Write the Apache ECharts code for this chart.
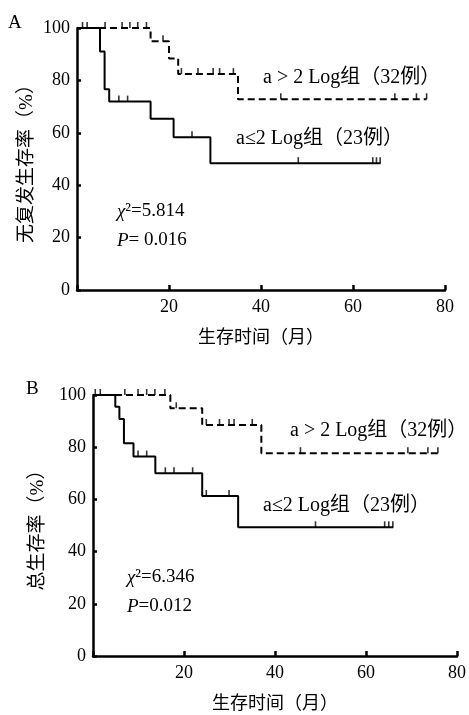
<!DOCTYPE html>
<html lang="zh">
<head>
<meta charset="UTF-8">
<title>生存曲线</title>
<script src="https://cdn.jsdelivr.net/npm/echarts@6/dist/echarts.min.js"></script>
</head>
<body style="margin:0;background:#fff;">
<div id="main" style="width:469px;height:715px;"></div>
<script>
// A: 无复发生存率
const rfsHighT = [0, 16, 20, 22, 35, 76];
const rfsHighS = [100, 94.9, 88.4, 82.4, 72.8, 72.8];
const rfsHighCens = [1.2, 2.2, 6.1, 9.8, 11.5, 13.2, 15.1, 18.7, 22.7, 26.3, 29.6, 31, 34, 44.3, 69.1, 73.8, 76];
const rfsLowT = [0, 5, 6, 7, 16, 21, 29, 66];
const rfsLowS = [100, 91, 76.6, 71.9, 65.4, 58.3, 48.4, 48.4];
const rfsLowCens = [9.1, 11, 25, 48.1, 64.3, 65.1, 65.9];

// B: 总生存率
const osHighT = [0, 17, 24, 37, 76];
const osHighS = [100, 94.9, 88.5, 77.7, 77.7];
const osHighCens = [0.5, 1.6, 7, 9.9, 11.8, 13.6, 15.8, 18.3, 24.9, 27.8, 29.9, 31, 35, 45.6, 69.2, 73.6, 75.8];
const osLowT = [0, 4.9, 5.8, 6.8, 8.9, 13.7, 24, 31.9, 66];
const osLowS = [100, 95.5, 90.8, 81.5, 76.4, 70, 61.3, 49.3, 49.3];
const osLowCens = [9.9, 11.8, 15.9, 17.8, 21.9, 24.9, 29.9, 48.9, 64.1, 65, 65.9];

const labelHigh = 'a > 2 Log组（32例）';
const labelLow = 'a≤2 Log组（23例）';

const FONT = '"Liberation Serif", "Noto Sans CJK SC", serif';

function pairs(ts, ss) {
  return ts.map((t, i) => [t, ss[i]]);
}
// survival value at time t on a step curve
function survAt(ts, ss, t) {
  let s = ss[0];
  for (let i = 0; i < ts.length; i++) {
    if (ts[i] <= t) s = ss[i];
  }
  return s;
}
function cens(ts, ss, cs) {
  return cs.map(c => [c, survAt(ts, ss, c)]);
}

function xAxisOf(idx) {
  return {
    type: 'value', gridIndex: idx, min: 0, max: 80, interval: 20,
    axisLine: { show: true, onZero: false, lineStyle: { color: '#000', width: 2.5 } },
    axisTick: { show: true, inside: true, length: 5, lineStyle: { color: '#000', width: 2.5 } },
    axisLabel: { color: '#000', fontSize: 18, fontFamily: FONT, margin: 8,
      formatter: v => (v === 0 ? '' : v) },
    splitLine: { show: false },
    name: '生存时间（月）', nameLocation: 'middle', nameGap: 39,
    nameTextStyle: { color: '#000', fontSize: 18, fontFamily: FONT }
  };
}
function yAxisOf(idx, name, gap) {
  return {
    type: 'value', gridIndex: idx, min: 0, max: 100, interval: 20,
    axisLine: { show: true, lineStyle: { color: '#000', width: 2.5 } },
    axisTick: { show: true, inside: true, length: 4, lineStyle: { color: '#000', width: 2.5 } },
    axisLabel: { color: '#000', fontSize: 18, fontFamily: FONT, margin: 7 },
    splitLine: { show: false },
    name: name, nameLocation: 'middle', nameGap: gap, nameRotate: 90,
    nameMoveOverlap: false,
    nameTextStyle: { color: '#000', fontSize: 19, fontFamily: FONT }
  };
}
function curve(idx, data, dashed) {
  return {
    type: 'line', xAxisIndex: idx, yAxisIndex: idx, step: 'end', symbol: 'none',
    data: data, clip: false,
    lineStyle: { color: '#000', width: 2, type: dashed ? [7, 4] : 'solid' }
  };
}
function marks(idx, data) {
  return {
    type: 'scatter', xAxisIndex: idx, yAxisIndex: idx, data: data, clip: false,
    symbol: 'rect', symbolSize: [1.6, 6], symbolOffset: [0, -3],
    itemStyle: { color: '#000' }
  };
}
function txt(left, top, text, size) {
  return { type: 'text', left: left, top: top,
    style: { text: text, font: (size || 20) + 'px ' + FONT, fill: '#000' } };
}
function stat(left, top, chi, p) {
  return [
    { type: 'text', left: left, top: top, style: {
      text: '{i|χ}{n|²=' + chi + '}', fill: '#000',
      rich: {
        i: { fontSize: 19, fontStyle: 'italic', fontFamily: FONT },
        n: { fontSize: 19, fontFamily: FONT }
      } } },
    { type: 'text', left: left, top: top + 29, style: {
      text: '{i|P}{n|' + p + '}', fill: '#000',
      rich: {
        i: { fontSize: 19, fontStyle: 'italic', fontFamily: FONT },
        n: { fontSize: 19, fontFamily: FONT }
      } } }
  ];
}

const chart = echarts.init(document.getElementById('main'));
chart.setOption({
  animation: false,
  backgroundColor: '#fff',
  grid: [
    { left: 77, top: 28, width: 368, height: 262 },
    { left: 93, top: 395, width: 366, height: 261 }
  ],
  xAxis: [xAxisOf(0), xAxisOf(1)],
  yAxis: [yAxisOf(0, '无复发生存率（%）', 40), yAxisOf(1, '总生存率（%）', 45)],
  series: [
    curve(0, pairs(rfsHighT, rfsHighS), true),
    curve(0, pairs(rfsLowT, rfsLowS), false),
    marks(0, cens(rfsHighT, rfsHighS, rfsHighCens)),
    marks(0, cens(rfsLowT, rfsLowS, rfsLowCens)),
    curve(1, pairs(osHighT, osHighS), true),
    curve(1, pairs(osLowT, osLowS), false),
    marks(1, cens(osHighT, osHighS, osHighCens)),
    marks(1, cens(osLowT, osLowS, osLowCens))
  ],
  graphic: [
    txt(8, 14, 'A', 19),
    txt(263, 68, labelHigh),
    txt(236, 129, labelLow),
    ...stat(117, 202, '5.814', '= 0.016'),
    txt(26, 380, 'B', 19),
    txt(290, 421, labelHigh),
    txt(263, 496, labelLow),
    ...stat(127, 568, '6.346', '=0.012')
  ]
});
</script>
</body>
</html>
